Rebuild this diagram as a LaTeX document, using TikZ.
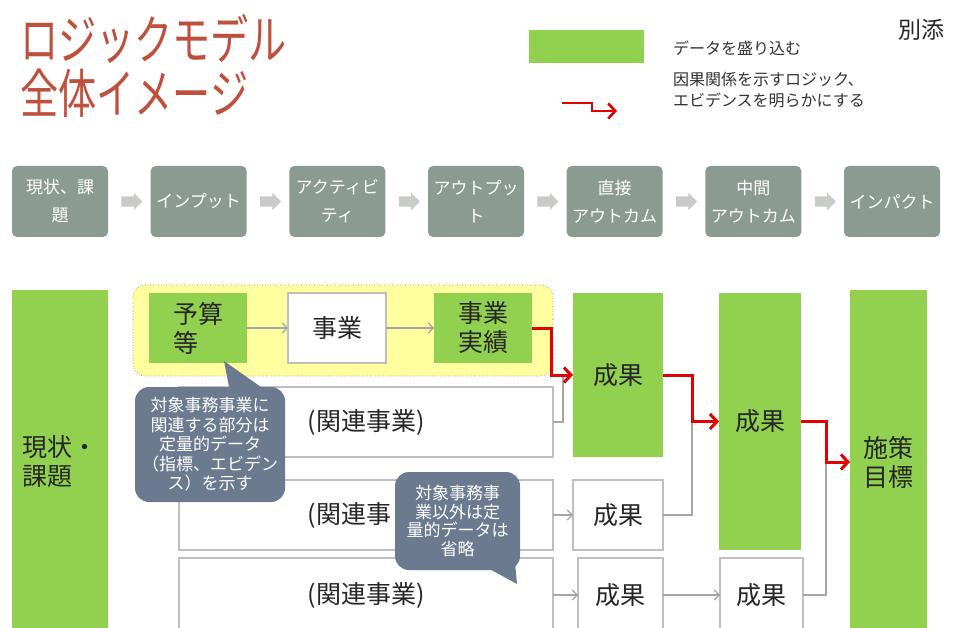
\documentclass[tikz,border=0pt]{standalone}
\usepackage{fontspec}
\setmainfont{Noto Sans CJK JP}
\usepackage{graphicx}
\usetikzlibrary{arrows.meta,shapes.arrows,calc}
\definecolor{lgreen}{RGB}{146,208,80}
\definecolor{boxgray}{RGB}{140,155,145}
\definecolor{arrgray}{RGB}{200,203,200}
\definecolor{titlered}{RGB}{192,80,62}
\definecolor{calloutblue}{RGB}{107,122,143}
\definecolor{pyellow}{RGB}{255,255,160}
\definecolor{lred}{RGB}{226,0,0}
\definecolor{linegray}{RGB}{166,166,166}
\definecolor{bordgray}{RGB}{191,191,191}
\newcommand{\myfs}[2]{\fontsize{#1}{#2}\selectfont}
\begin{document}
\begin{tikzpicture}[x=1pt,y=-1pt,
  every node/.style={inner sep=0pt, outer sep=0pt},
  gbox/.style={fill=lgreen, draw=none, align=left, font=\myfs{25}{29}, text=black!85},
  wbox/.style={fill=white, draw=bordgray, line width=1.1pt, align=left, font=\myfs{25}{29}, text=black!85},
  topbox/.style={fill=boxgray, rounded corners=5pt, text=white, font=\myfs{17}{28}, align=center, minimum width=96pt, minimum height=71pt},
  tarrow/.style={single arrow, fill=arrgray, inner xsep=0pt, inner ysep=5pt, minimum height=21pt, single arrow head extend=3.5pt},
  redline/.style={draw=lred, line width=3pt, -{Straight Barb[length=7pt,width=15pt]}},
  grayline/.style={draw=linegray, line width=1.1pt},
  grayarrow/.style={grayline, -{Straight Barb[length=5pt,width=10pt]}},
  callout/.style={fill=calloutblue, rounded corners=14pt, text=white, align=center, font=\myfs{17}{19.5}},
]
\useasboundingbox (0,0) rectangle (953,628);
\fill[white] (0,0) rectangle (953,628);

% title
\node[anchor=base west, text=titlered, font=\myfs{53}{54}] (title1) at (20,60) {\scalebox{0.72}[1]{ロジックモデル}};
\node[anchor=base west, text=titlered, font=\myfs{53}{54}] (title2) at (20,114) {\scalebox{0.72}[1]{全体イメージ}};

% legend
\node[fill=lgreen, minimum width=115pt, minimum height=33pt] (leg) at (586.5,46.5) {};
\node[anchor=west, font=\myfs{16}{20}, text=black!80] (legt1) at (673,48) {データを盛り込む};
\node[anchor=west, align=left, font=\myfs{16}{21}, text=black!80] (legt2) at (673,90) {因果関係を示すロジック、\\エビデンスを明らかにする};
\coordinate (lra) at (562,103);
\coordinate (lrb) at (617,111);
\draw[redline, line width=2.6pt] (lra) -- ++(30,0) |- (lrb);
\node[anchor=west, font=\myfs{23}{24}, text=black!85] (betten) at (898,30) {別添};

% top row
\node[topbox] (t1) at (60,201.5) {現状、課\\題};
\node[topbox] (t2) at (198.7,201.5) {インプット};
\node[topbox] (t3) at (337.3,201.5) {アクティビ\\ティ};
\node[topbox] (t4) at (476,201.5) {アウトプッ\\ト};
\node[topbox] (t5) at (614.7,201.5) {直接\\アウトカム};
\node[topbox] (t6) at (753.3,201.5) {中間\\アウトカム};
\node[topbox] (t7) at (892,201.5) {インパクト};
\foreach \a/\b in {t1/t2,t2/t3,t3/t4,t4/t5,t5/t6,t6/t7}
  \node[tarrow] (arr\a) at ($(\a.east)!0.5!(\b.west)$) {};

% bottom
\node[gbox, minimum width=96pt, minimum height=344pt] (genjo) at (60,462) {現状・\\課題};
\node[fill=pyellow, draw=black!55, dotted, line width=0.6pt, rounded corners=12pt, minimum width=420pt, minimum height=91pt] (grp) at (343,330.5) {};
\node[gbox, minimum width=98pt, minimum height=70pt] (yosan) at (198,328) {予算\\等};
\node[wbox, minimum width=98pt, minimum height=70pt] (jigyo) at (337,328) {事業};
\node[gbox, minimum width=98pt, minimum height=70pt] (jisseki) at (483,328) {事業\\実績};
\draw[grayarrow] (yosan) -- (jigyo);
\draw[grayarrow] (jigyo) -- (jisseki);

\node[gbox, minimum width=90pt, minimum height=164pt] (seika1) at (618,375) {成果};
\node[gbox, minimum width=82pt, minimum height=257pt] (seika2) at (760,421.5) {成果};
\node[gbox, minimum width=77pt, minimum height=344pt] (shisaku) at (888.5,462) {施策\\目標};
\node[wbox, minimum width=374pt, minimum height=70pt] (kanren1) at (366,422) {(関連事業)};
\node[wbox, minimum width=374pt, minimum height=70pt] (kanren2) at (366,515) {(関連事\phantom{業)}};
\node[wbox, minimum width=374pt, minimum height=74pt] (kanren3) at (366,595) {(関連事業)};
\node[wbox, minimum width=90pt, minimum height=70pt] (seika3) at (618,515) {成果};
\node[wbox, minimum width=85pt, minimum height=74pt] (seika4) at (620.5,595) {成果};
\node[wbox, minimum width=83pt, minimum height=74pt] (seika5) at (761.5,595) {成果};

\coordinate (j1) at (563,376);
\coordinate (j2) at (692,422);
\coordinate (j3) at (826,462);
\draw[grayline] (kanren1.east) -| (j1);
\draw[grayline] (seika3.east) -| (j2);
\draw[grayline] (seika5.east) -| (j3);
\draw[grayarrow] (kanren2) -- (seika3);
\draw[grayarrow] (kanren3) -- (seika4);
\draw[grayarrow] (seika4) -- (seika5);

\draw[redline] (jisseki.east) -- ++(19,0) |- (seika1.west);
\draw[redline] (seika1.east) -- ++(29,0) |- (seika2.west);
\draw[redline] (seika2.east) -- ++(25,0) |- (shisaku.west);

% callouts
\fill[calloutblue] (224,361) -- (230,392) -- (268,392) -- cycle;
\node[callout, minimum width=150pt, minimum height=115pt] (c1) at (210,444.5) {対象事務事業に\\関連する部分は\\定量的データ\\（指標、エビデン\\ス）を示す};
\fill[calloutblue] (484,566) -- (517,584) -- (514,552) -- cycle;
\node[callout, minimum width=125pt, minimum height=98pt, font=\myfs{17}{18.5}] (c2) at (457.5,521) {対象事務事\\業以外は定\\量的データは\\省略};
\end{tikzpicture}
\end{document}
